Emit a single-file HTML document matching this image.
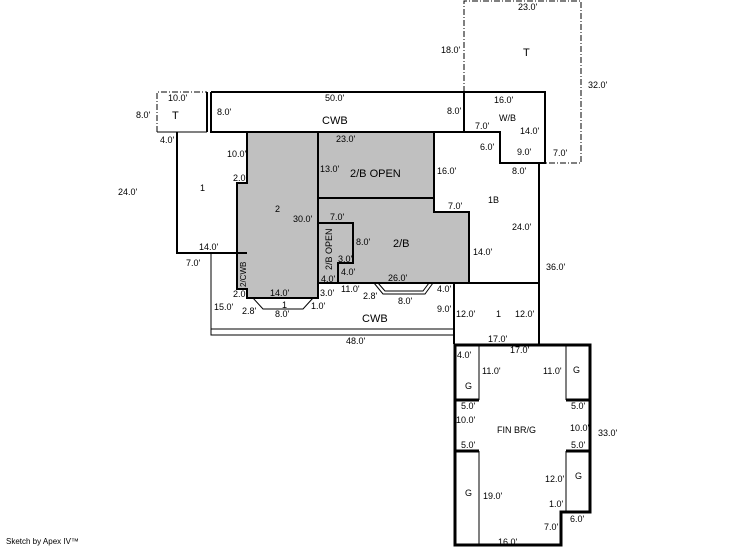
<!DOCTYPE html>
<html><head><style>
html,body{margin:0;padding:0;background:#fff;}
svg{display:block;}
text{font-family:"Liberation Sans",Arial,sans-serif;font-size:9px;fill:#000;}
.b{font-size:11px;}
</style></head><body>
<svg width="746" height="547" viewBox="0 0 746 547">
<g fill="#c0c0c0" stroke="none">
<polygon points="247,132 318,132 318,298 247,298 247,289 237,289 237,183 247,183"/>
<rect x="318" y="132" width="116" height="66"/>
<polygon points="318,198 434,198 434,212 469,212 469,283 318,283"/>
</g>
<g fill="none" stroke="#000" stroke-width="1">
<polyline points="464,92 464,1 581,1 581,163 545,163" stroke-dasharray="6,2,1,2"/>
<polyline points="157,132 157,92 207,92" stroke-dasharray="6,2,1,2"/>
<line x1="157" y1="132" x2="207" y2="132"/>
<line x1="207" y1="92" x2="207" y2="132"/>
<polyline points="211,253 211,335 454,335"/>
<line x1="211" y1="329" x2="454" y2="329"/>
<line x1="479" y1="344" x2="479" y2="400"/>
<line x1="479" y1="451" x2="479" y2="545"/>
<line x1="566" y1="344" x2="566" y2="400"/>
<line x1="566" y1="451" x2="566" y2="512"/>
<polyline points="253,298 263,309 303,309 313,298"/>
<polyline points="374,283 383,294 425,294 433,283"/>
<polyline points="378,283 385,291 423,291 429,283"/>
</g>
<g fill="none" stroke="#000" stroke-width="2">
<polyline points="211,92 545,92 545,163 500,163 500,132 211,132 211,92"/>
<polyline points="177,132 177,253 237,253"/>
<polygon points="247,132 318,132 318,298 247,298 247,289 237,289 237,183 247,183"/>
<line x1="237" y1="253" x2="247" y2="253"/>
<rect x="318" y="132" width="116" height="66"/>
<polyline points="318,198 434,198 434,212 469,212 469,283 318,283"/>
<polyline points="318,223 353,223 353,263 338,263 338,283"/>
<line x1="434" y1="132" x2="500" y2="132"/>
<polyline points="545,163 539,163 539,344"/>
<line x1="469" y1="283" x2="539" y2="283"/>
<line x1="454" y1="283" x2="454" y2="344"/>
<line x1="464" y1="92" x2="464" y2="132"/>
</g>
<g fill="none" stroke="#000" stroke-width="3">
<polygon points="455,345 590,345 590,512 561,512 561,545 455,545"/>
<line x1="455" y1="400" x2="479" y2="400"/>
<line x1="455" y1="451" x2="479" y2="451"/>
<line x1="566" y1="400" x2="590" y2="400"/>
<line x1="566" y1="451" x2="590" y2="451"/>
</g>
<line x1="207" y1="92" x2="207" y2="132" stroke="#000" stroke-width="2"/>
<text x="518" y="10">23.0'</text>
<text x="441" y="53">18.0'</text>
<text x="523" y="56" class="b">T</text>
<text x="588" y="88">32.0'</text>
<text x="168" y="101">10.0'</text>
<text x="172" y="119" class="b">T</text>
<text x="136" y="118">8.0'</text>
<text x="325" y="101">50.0'</text>
<text x="217" y="115">8.0'</text>
<text x="322" y="124" class="b">CWB</text>
<text x="447" y="114">8.0'</text>
<text x="494" y="103">16.0'</text>
<text x="499" y="121">W/B</text>
<text x="475" y="129">7.0'</text>
<text x="520" y="134">14.0'</text>
<text x="480" y="150">6.0'</text>
<text x="517" y="155">9.0'</text>
<text x="553" y="156">7.0'</text>
<text x="160" y="143">4.0'</text>
<text x="227" y="157">10.0'</text>
<text x="336" y="142">23.0'</text>
<text x="320" y="172">13.0'</text>
<text x="350" y="177" class="b">2/B OPEN</text>
<text x="437" y="174">16.0'</text>
<text x="512" y="174">8.0'</text>
<text x="233" y="181">2.0</text>
<text x="118" y="195">24.0'</text>
<text x="200" y="191">1</text>
<text x="488" y="203">1B</text>
<text x="275" y="212">2</text>
<text x="293" y="222">30.0'</text>
<text x="330" y="220">7.0'</text>
<text x="448" y="209">7.0'</text>
<text x="512" y="230">24.0'</text>
<text x="356" y="245">8.0'</text>
<text x="393" y="247" class="b">2/B</text>
<text x="473" y="255">14.0'</text>
<text x="199" y="250">14.0'</text>
<text x="186" y="266">7.0'</text>
<text x="546" y="270">36.0'</text>
<text x="338" y="262">3.0'</text>
<text x="341" y="275">4.0'</text>
<text x="321" y="282">4.0'</text>
<text x="388" y="281">26.0'</text>
<text x="233" y="297">2.0'</text>
<text x="270" y="296">14.0'</text>
<text x="320" y="296">3.0'</text>
<text x="341" y="292">11.0'</text>
<text x="437" y="292">4.0'</text>
<text x="363" y="299">2.8'</text>
<text x="214" y="310">15.0'</text>
<text x="242" y="314">2.8'</text>
<text x="282" y="308">1</text>
<text x="275" y="317">8.0'</text>
<text x="311" y="309">1.0'</text>
<text x="398" y="304">8.0'</text>
<text x="437" y="312">9.0'</text>
<text x="456" y="317">12.0'</text>
<text x="496" y="317">1</text>
<text x="515" y="317">12.0'</text>
<text x="362" y="322" class="b">CWB</text>
<text x="346" y="344">48.0'</text>
<text x="488" y="342">17.0'</text>
<text x="510" y="353">17.0'</text>
<text x="457" y="358">4.0'</text>
<text x="482" y="374">11.0'</text>
<text x="543" y="374">11.0'</text>
<text x="573" y="373">G</text>
<text x="465" y="389">G</text>
<text x="461" y="409">5.0'</text>
<text x="571" y="409">5.0'</text>
<text x="456" y="423">10.0'</text>
<text x="497" y="433">FIN BR/G</text>
<text x="570" y="431">10.0'</text>
<text x="598" y="436">33.0'</text>
<text x="461" y="448">5.0'</text>
<text x="571" y="448">5.0'</text>
<text x="575" y="479">G</text>
<text x="545" y="482">12.0'</text>
<text x="465" y="496">G</text>
<text x="483" y="499">19.0'</text>
<text x="549" y="507">1.0'</text>
<text x="570" y="522">6.0'</text>
<text x="544" y="530">7.0'</text>
<text x="498" y="545">16.0'</text>
<text x="6" y="544" style="font-size:8px">Sketch by Apex IV™</text>
<text x="332" y="270" transform="rotate(-90 332 270)">2/B OPEN</text>
<text x="246" y="287" transform="rotate(-90 246 287)" style="font-size:8px">2/CWB</text>
</svg>
</body></html>
